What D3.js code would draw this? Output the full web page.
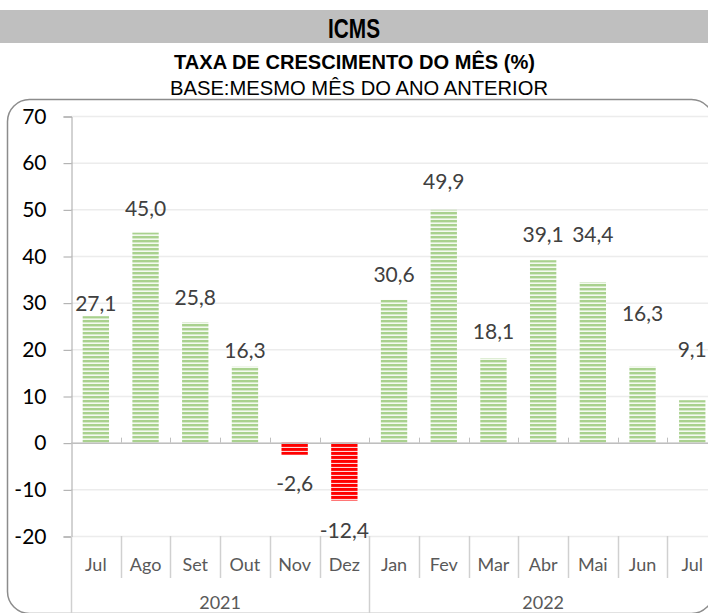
<!DOCTYPE html>
<html>
<head>
<meta charset="utf-8">
<script src="https://cdn.jsdelivr.net/npm/d3@7"></script>
<style>
  body { margin: 0; background: #fff; }
</style>
</head>
<body>
<div id="chart"></div>
<script>
// months and values
var months = ["Jul", "Ago", "Set", "Out", "Nov", "Dez", "Jan", "Fev", "Mar", "Abr", "Mai", "Jun", "Jul"];
var years = ["2021", "2022"];
var yearSpan = [6, 7];
var growth = [27.1, 45.0, 25.8, 16.3, -2.6, -12.4, 30.6, 49.9, 18.1, 39.1, 34.4, 16.3, 9.1];
var yTicks = [70, 60, 50, 40, 30, 20, 10, 0, -10, -20];

var width = 708;
var height = 613;

var margin = { left: 71, top: 116, bottom: 536 };

// where Excel put each data label (in axis units), it moved some of them by hand
var labelAt = [29.8, 50.1, 31.1, 19.7, -8.8, -18.9, 36.0, 55.9, 23.8, 44.6, 44.6, 27.6, 19.9];

var svg = d3.select("#chart").append("svg")
    .attr("width", width)
    .attr("height", height);

var defs = svg.append("defs");

// striped fills
var green = defs.append("pattern")
    .attr("id", "greenStripes")
    .attr("patternUnits", "userSpaceOnUse")
    .attr("width", 8).attr("height", 4);
green.append("rect").attr("width", 8).attr("height", 4).attr("fill", "#f4faf0");
green.append("rect").attr("width", 8).attr("height", 2.4).attr("fill", "#a9d18e");

var red = defs.append("pattern")
    .attr("id", "redStripes")
    .attr("patternUnits", "userSpaceOnUse")
    .attr("width", 8).attr("height", 4);
red.append("rect").attr("width", 8).attr("height", 4).attr("fill", "#ffd6d6");
red.append("rect").attr("width", 8).attr("height", 2.9).attr("fill", "#ff0000");

// header
svg.append("rect")
    .attr("x", 0).attr("y", 10)
    .attr("width", width).attr("height", 33)
    .attr("fill", "#bfbfbf");

var narrow = "'Liberation Sans Narrow', 'Arial Narrow', 'Liberation Sans', sans-serif";

// no narrow face here, so squeeze the text to the widths seen in the picture
svg.append("text")
    .attr("x", 328).attr("y", 38)
    .attr("textLength", 52)
    .attr("lengthAdjust", "spacingAndGlyphs")
    .style("font-family", narrow)
    .style("font-weight", "bold")
    .style("font-size", "28px")
    .text("ICMS");

svg.append("text")
    .attr("x", 174).attr("y", 69)
    .attr("textLength", 361)
    .attr("lengthAdjust", "spacingAndGlyphs")
    .style("font-family", narrow)
    .style("font-weight", "bold")
    .style("font-size", "21px")
    .text("TAXA DE CRESCIMENTO DO MÊS (%)");

svg.append("text")
    .attr("x", 170).attr("y", 95)
    .attr("textLength", 378)
    .attr("lengthAdjust", "spacingAndGlyphs")
    .style("font-family", narrow)
    .style("font-size", "21px")
    .text("BASE:MESMO MÊS DO ANO ANTERIOR");

// chart frame
svg.append("rect")
    .attr("x", 7.5).attr("y", 99.5)
    .attr("width", 706).attr("height", 514)
    .attr("rx", 22).attr("ry", 22)
    .attr("fill", "none")
    .attr("stroke", "#8c8c8c")
    .attr("stroke-width", 1.5);

// scales
var x = d3.scaleBand()
    .domain(d3.range(months.length))
    .range([margin.left, margin.left + 13 * 49.7])
    .paddingInner(0.47)
    .paddingOuter(0.235);

var y = d3.scaleLinear()
    .domain([-20, 70])
    .range([margin.bottom, margin.top]);

var font = "Lato, 'Open Sans', sans-serif";

// gridlines
svg.append("g").selectAll("line")
    .data(yTicks)
    .enter().append("line")
    .attr("x1", margin.left).attr("x2", width)
    .attr("y1", function(d) { return y(d) + 0.5; })
    .attr("y2", function(d) { return y(d) + 0.5; })
    .attr("stroke", "#ececec")
    .attr("stroke-width", 1.5);

// y axis
var yAxis = svg.append("g")
    .attr("transform", "translate(" + (margin.left + 0.5) + ",0.5)")
    .call(d3.axisLeft(y)
        .tickValues(yTicks)
        .tickFormat(function(d) { return String(d); })
        .tickSize(8)
        .tickPadding(17));
yAxis.select(".domain").attr("stroke", "#a6a6a6");
yAxis.selectAll(".tick line").attr("stroke", "#a6a6a6");
yAxis.selectAll(".tick text")
    .style("font-family", font)
    .style("font-size", "21px")
    .attr("fill", "#000");

// bars
svg.append("g").selectAll("rect")
    .data(growth)
    .enter().append("rect")
    .attr("x", function(d, i) { return x(i); })
    .attr("width", x.bandwidth())
    .attr("y", function(d) { return y(Math.max(0, d)); })
    .attr("height", function(d) { return Math.abs(y(d) - y(0)); })
    .attr("fill", function(d) { return d < 0 ? "url(#redStripes)" : "url(#greenStripes)"; });

// zero line with inward ticks
svg.append("line")
    .attr("x1", margin.left).attr("x2", width)
    .attr("y1", y(0) + 0.5).attr("y2", y(0) + 0.5)
    .attr("stroke", "#bfbfbf")
    .attr("stroke-width", 1.5);

var bounds = d3.range(months.length + 1).map(function(i) {
    return margin.left + i * x.step();
});

svg.append("g").selectAll("line")
    .data(bounds.slice(1))
    .enter().append("line")
    .attr("x1", function(d) { return Math.round(d) + 0.5; })
    .attr("x2", function(d) { return Math.round(d) + 0.5; })
    .attr("y1", y(0) - 5).attr("y2", y(0))
    .attr("stroke", "#bfbfbf");

// category separators below the plot
svg.append("g").selectAll("line")
    .data(bounds)
    .enter().append("line")
    .attr("x1", function(d) { return Math.round(d) + 0.5; })
    .attr("x2", function(d) { return Math.round(d) + 0.5; })
    .attr("y1", margin.bottom)
    .attr("y2", function(d, i) { return (i === 0 || i === yearSpan[0]) ? height : 578; })
    .attr("stroke", "#d0d0d0")
    .attr("stroke-width", 1.5);

// month labels
svg.append("g").selectAll("text")
    .data(months)
    .enter().append("text")
    .attr("x", function(d, i) { return x(i) + x.bandwidth() / 2; })
    .attr("y", 571)
    .attr("text-anchor", "middle")
    .style("font-family", font)
    .style("font-size", "18px")
    .attr("fill", "#595959")
    .text(function(d) { return d; });

// year labels
var yearStart = 0;
years.forEach(function(yr, k) {
    var mid = margin.left + (yearStart + yearSpan[k] / 2) * x.step();
    svg.append("text")
        .attr("x", mid)
        .attr("y", 609)
        .attr("text-anchor", "middle")
        .style("font-family", font)
        .style("font-size", "18px")
        .attr("fill", "#595959")
        .text(yr);
    yearStart += yearSpan[k];
});

// data labels
var fmt = function(v) { return d3.format(".1f")(v).replace(".", ",").replace("−", "-"); };

svg.append("g").selectAll("text")
    .data(growth)
    .enter().append("text")
    .attr("x", function(d, i) { return x(i) + x.bandwidth() / 2; })
    .attr("y", function(d, i) { return y(labelAt[i]); })
    .attr("dy", "0.35em")
    .attr("text-anchor", "middle")
    .style("font-family", font)
    .style("font-size", "21px")
    .attr("fill", "#404040")
    .text(function(d) { return fmt(d); });
</script>
</body>
</html>
